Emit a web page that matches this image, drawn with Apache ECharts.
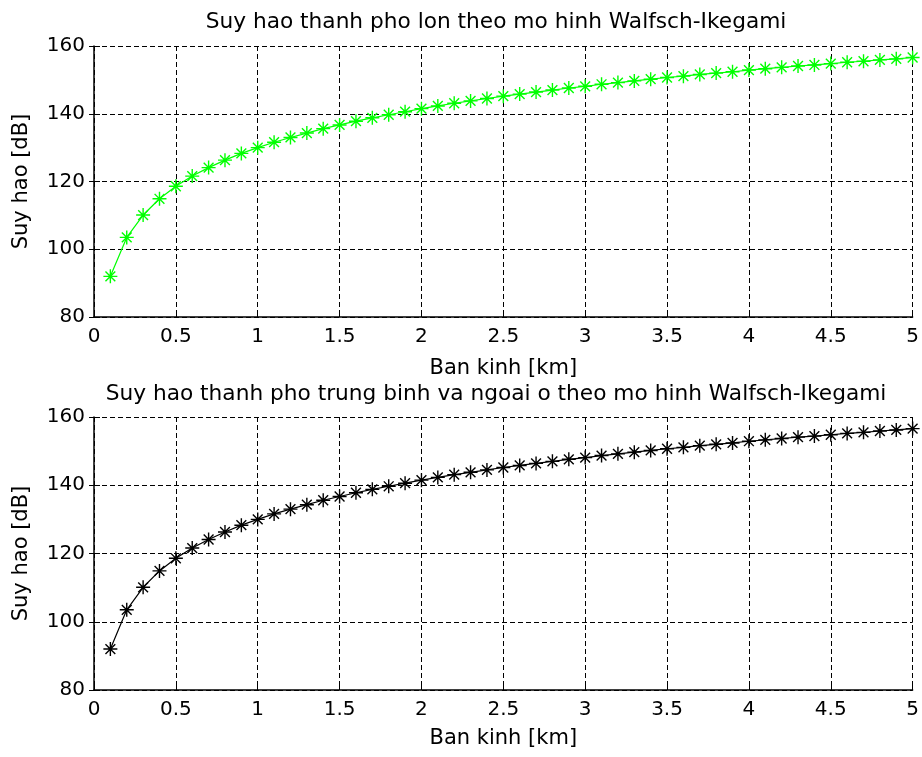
<!DOCTYPE html>
<html>
<head>
<meta charset="utf-8">
<script src="https://cdn.jsdelivr.net/npm/echarts@6/dist/echarts.min.js"></script>
<style>
  html, body { margin: 0; padding: 0; background: #fff; }
  #chart { width: 922px; height: 757px; }
</style>
</head>
<body>
<div id="chart"></div>
<script>
// ban kinh (km)
var banKinh = [0.1, 0.2, 0.3, 0.4, 0.5, 0.6, 0.7, 0.8, 0.9, 1.0,
  1.1, 1.2, 1.3, 1.4, 1.5, 1.6, 1.7, 1.8, 1.9, 2.0,
  2.1, 2.2, 2.3, 2.4, 2.5, 2.6, 2.7, 2.8, 2.9, 3.0,
  3.1, 3.2, 3.3, 3.4, 3.5, 3.6, 3.7, 3.8, 3.9, 4.0,
  4.1, 4.2, 4.3, 4.4, 4.5, 4.6, 4.7, 4.8, 4.9, 5.0];

// suy hao thanh pho lon (dB)
var suyHaoLon = [92.0, 103.5, 110.1, 114.9, 118.6, 121.6, 124.1, 126.3, 128.3, 130.0,
  131.6, 133.0, 134.3, 135.6, 136.7, 137.8, 138.8, 139.7, 140.6, 141.5,
  142.3, 143.1, 143.8, 144.5, 145.2, 145.8, 146.4, 147.0, 147.6, 148.1,
  148.7, 149.2, 149.7, 150.2, 150.7, 151.1, 151.6, 152.0, 152.4, 152.9,
  153.3, 153.7, 154.1, 154.4, 154.8, 155.2, 155.5, 155.9, 156.2, 156.6];

// suy hao thanh pho trung binh va ngoai o (dB)
var suyHaoTB = [92.0, 103.5, 110.1, 114.9, 118.6, 121.6, 124.1, 126.3, 128.3, 130.0,
  131.6, 133.0, 134.3, 135.6, 136.7, 137.8, 138.8, 139.7, 140.6, 141.5,
  142.3, 143.1, 143.8, 144.5, 145.2, 145.8, 146.4, 147.0, 147.6, 148.1,
  148.7, 149.2, 149.7, 150.2, 150.7, 151.1, 151.6, 152.0, 152.4, 152.9,
  153.3, 153.7, 154.1, 154.4, 154.8, 155.2, 155.5, 155.9, 156.2, 156.6];

var tieuDe = [
  "Suy hao thanh pho lon theo mo hinh Walfsch-Ikegami",
  "Suy hao thanh pho trung binh va ngoai o theo mo hinh Walfsch-Ikegami"
];

var FONT = "DejaVu Sans";
var asterisk = "path://M0,-10L0,10M-10,0L10,0M-7,-7L7,7M-7,7L7,-7";

function pairs(xs, ys) {
  return xs.map(function (x, i) { return [x, ys[i]]; });
}

var grids = [
  { left: 94, right: 9, top: 46, height: 271 },
  { left: 94, right: 9, top: 417, height: 273 }
];

var xAxes = [], yAxes = [];
[0, 1].forEach(function (g) {
  // main axes (bottom / left)
  xAxes.push({
    gridIndex: g, type: "value", min: 0, max: 5, interval: 0.5,
    name: "Ban kinh [km]", nameLocation: "middle", nameGap: g === 0 ? 41 : 38,
    nameTextStyle: { color: "#000", fontFamily: FONT, fontSize: 21 },
    axisLine: { show: true, onZero: false, lineStyle: { color: "#000", width: 1.5 } },
    axisTick: { show: true, inside: true, length: 6, lineStyle: { color: "#000" } },
    axisLabel: { color: "#000", fontFamily: FONT, fontSize: 20, margin: 10 },
    splitLine: { show: true, lineStyle: { color: "#000", type: [5, 3], width: 1 } }
  });
  yAxes.push({
    gridIndex: g, type: "value", min: 80, max: 160, interval: 20,
    name: "Suy hao [dB]", nameLocation: "middle", nameGap: 62,
    nameTextStyle: { color: "#000", fontFamily: FONT, fontSize: 21 },
    axisLine: { show: true, onZero: false, lineStyle: { color: "#000", width: 1.5 } },
    axisTick: { show: true, inside: true, length: 6, lineStyle: { color: "#000" } },
    axisLabel: { color: "#000", fontFamily: FONT, fontSize: 20, margin: 9 },
    splitLine: { show: true, lineStyle: { color: "#000", type: [5, 3], width: 1 } }
  });
});
[0, 1].forEach(function (g) {
  // mirror axes for ticks on top / right
  xAxes.push({
    gridIndex: g, type: "value", min: 0, max: 5, interval: 0.5, position: "top",
    axisLine: { show: false },
    axisTick: { show: true, inside: true, length: 5, lineStyle: { color: "#000" } },
    axisLabel: { show: false }, splitLine: { show: false }
  });
  yAxes.push({
    gridIndex: g, type: "value", min: 80, max: 160, interval: 20, position: "right",
    axisLine: { show: false },
    axisTick: { show: true, inside: true, length: 5, lineStyle: { color: "#000" } },
    axisLabel: { show: false }, splitLine: { show: false }
  });
});

function lineSeries(g, ys, color) {
  return {
    type: "line", xAxisIndex: g, yAxisIndex: g, data: pairs(banKinh, ys),
    symbol: asterisk, symbolSize: 14, showAllSymbol: true,
    lineStyle: { color: color, width: 1.2 },
    itemStyle: { color: color, borderColor: color, borderWidth: 1.4 },
    animation: false, silent: true
  };
}

var chart = echarts.init(document.getElementById("chart"));
chart.setOption({
  backgroundColor: "#fff",
  animation: false,
  title: [
    { text: tieuDe[0], left: 491, top: 6, textAlign: "center",
      textStyle: { color: "#000", fontFamily: FONT, fontSize: 21.7, fontWeight: "normal" } },
    { text: tieuDe[1], left: 491, top: 378, textAlign: "center",
      textStyle: { color: "#000", fontFamily: FONT, fontSize: 21.7, fontWeight: "normal" } }
  ],
  grid: grids,
  xAxis: xAxes,
  yAxis: yAxes,
  series: [
    lineSeries(0, suyHaoLon, "#00ff00"),
    lineSeries(1, suyHaoTB, "#000000")
  ]
});
</script>
</body>
</html>
